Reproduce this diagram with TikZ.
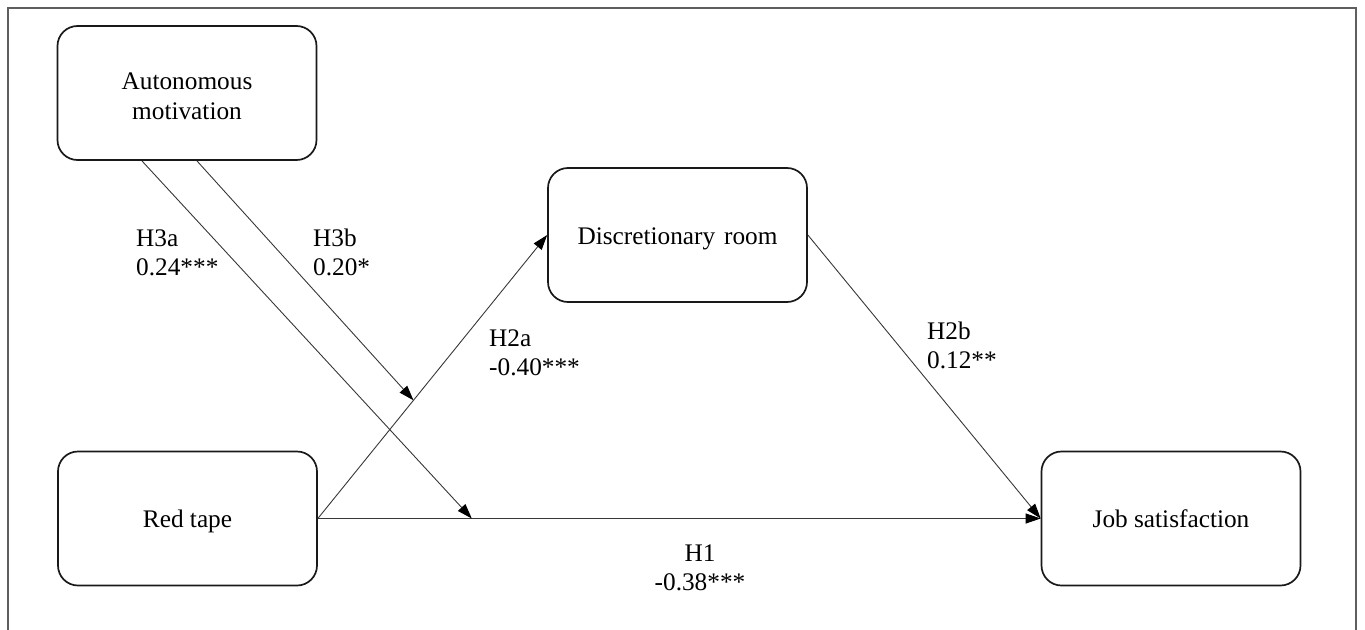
\documentclass[tikz,border=0pt]{standalone}
\usepackage{fontspec}
\setmainfont{Liberation Serif}
\usetikzlibrary{arrows.meta,calc}
\definecolor{framegray}{RGB}{95,95,95}
\definecolor{linegray}{RGB}{55,55,55}
\definecolor{boxblack}{RGB}{25,25,25}
\tikzset{
  varbox/.style={draw=boxblack, line width=1.7pt, rounded corners=20pt,
    minimum width=259pt, minimum height=134pt, inner sep=0pt,
    font=\fontsize{25.3}{30}\selectfont, align=center},
  onebox/.style={varbox, text height=18pt, text depth=0pt},
  conn/.style={draw=linegray, line width=0.9pt,
    -{Triangle[length=15pt,width=10pt,color=black]}},
  lab/.style={inner sep=0pt, anchor=base west, font=\fontsize{25.3}{30}\selectfont},
  labc/.style={inner sep=0pt, anchor=base, font=\fontsize{25.3}{30}\selectfont}
}
\begin{document}
\begin{tikzpicture}[x=1pt,y=-1pt]
\useasboundingbox (0,0) rectangle (1365,629);
% frame
\draw[framegray, line width=1.6pt] (8,640) -- (8,8) -- (1356,8) -- (1356,640);

% boxes
\node[varbox] (am) at (187,93) {\rule{0pt}{23pt}Autonomous\\motivation};
\node[onebox] (rt) at (187.5,518.5) {Red tape};
\node[onebox] (dr) at (677.5,235) {Discretionary\hspace{0.35em}room};
\node[onebox] (js) at (1171,518.5) {Job satisfaction};

% helper coordinates
\coordinate (h3as) at ($(am.south west)!0.327!(am.south east)$);
\coordinate (h3bs) at ($(am.south west)!0.538!(am.south east)$);
\coordinate (h3ae) at ($(rt.east)!0.213!(js.west)$);
\coordinate (h3be) at ($(rt.east)!0.417!(dr.west)$);

% connectors
\draw[conn] (rt.east) -- (js.west);
\draw[conn] (rt.east) -- (dr.west);
\draw[conn] (dr.east) -- (js.west);
\draw[conn] (h3as) -- (h3ae);
\draw[conn] (h3bs) -- (h3be);

% labels
\node[lab] (l3a1) at (136,246) {H3a};
\node[lab] (l3a2) at (136,275) {0.24***};
\node[lab] (l3b1) at (313,246) {H3b};
\node[lab] (l3b2) at (313,275) {0.20*};
\node[lab] (l2a1) at (489,346) {H2a};
\node[lab] (l2a2) at (489,375) {-0.40***};
\node[lab] (l2b1) at (927,339) {H2b};
\node[lab] (l2b2) at (927,368) {0.12**};
\node[labc] (l11) at (700,561) {H1};
\node[labc] (l12) at (700,590) {-0.38***};
\end{tikzpicture}
\end{document}
